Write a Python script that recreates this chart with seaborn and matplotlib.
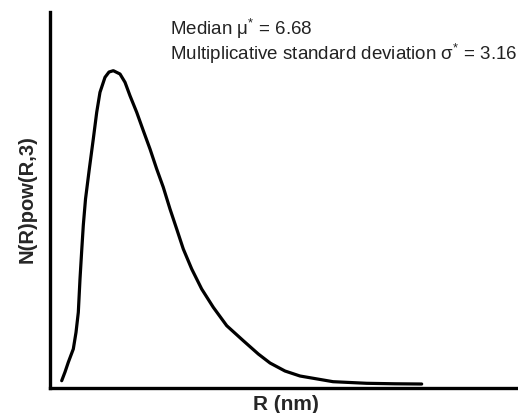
import numpy as np
import pandas as pd
import matplotlib
matplotlib.use("Agg")
import matplotlib.pyplot as plt
import seaborn as sns

# curve (arbitrary units, axis spans 0..100 both ways)
r_vals = [2.50, 3.21, 3.91, 4.98, 5.56, 6.05, 6.41, 6.77, 7.12, 7.59, 8.40,
          9.25, 9.98, 10.68, 11.75, 12.61, 13.53, 14.96, 16.03, 17.09, 18.53,
          19.94, 21.37, 22.80, 24.21, 25.64, 27.07, 28.48, 30.28, 32.41,
          34.89, 37.76, 41.30, 44.51, 47.01, 50.21, 53.42, 60.47, 67.67,
          73.72, 79.42]
nr3_vals = [1.94, 4.26, 6.84, 10.37, 14.81, 20.13, 28.99, 36.44, 43.35, 50.27,
            58.24, 66.22, 73.32, 78.64, 82.63, 84.04, 84.39, 83.51, 81.30,
            77.74, 73.32, 68.43, 63.56, 58.24, 53.38, 47.61, 42.29, 36.97,
            31.65, 26.33, 21.46, 16.57, 12.58, 9.04, 6.65, 4.52, 3.19, 1.68,
            1.25, 1.12, 1.06]

median_txt = "Median μ$^{*}$ = 6.68"
sigma_txt = "Multiplicative standard deviation σ$^{*}$ = 3.16"
x_label = "R (nm)"
y_label = "N(R)pow(R,3)"

df = pd.DataFrame({"R": r_vals, "NR3": nr3_vals})

sns.set_style("white")
plt.rcParams["font.family"] = ["Liberation Sans", "DejaVu Sans"]
plt.rcParams["mathtext.fontset"] = "custom"
plt.rcParams["mathtext.rm"] = "Liberation Sans"

W, H = 518, 414
fig = plt.figure(figsize=(W / 100, H / 100), dpi=100)
ax = fig.add_axes([50 / W, 1 - 389 / H, (W - 50) / W, (389 - 13) / H])

sns.lineplot(data=df, x="R", y="NR3", sort=False, color="black",
             linewidth=2.3, ax=ax)
ax.lines[0].set_solid_joinstyle("round")
ax.lines[0].set_solid_capstyle("round")

ax.set_xlim(0, 100)
ax.set_ylim(0, 100)
ax.set_xticks([])
ax.set_yticks([])
ax.set_xlabel("")
ax.set_ylabel("")
sns.despine(ax=ax)
for s in ["left", "bottom"]:
    ax.spines[s].set_linewidth(2.4)
    ax.spines[s].set_color("black")

fig.text(170 / W, 1 - 35 / H, median_txt, fontsize=13.5, color="#222222",
         va="baseline", ha="left")
fig.text(170 / W, 1 - 60 / H, sigma_txt, fontsize=13.5, color="#222222",
         va="baseline", ha="left")

fig.text(286 / W, 1 - 410.5 / H, x_label, fontsize=15, fontweight="bold",
         ha="center", va="baseline")
fig.text(27 / W, 1 - 199 / H, y_label, fontsize=14.5, fontweight="bold",
         rotation=90, ha="center", va="center")

fig.savefig("out.png", dpi=100)
